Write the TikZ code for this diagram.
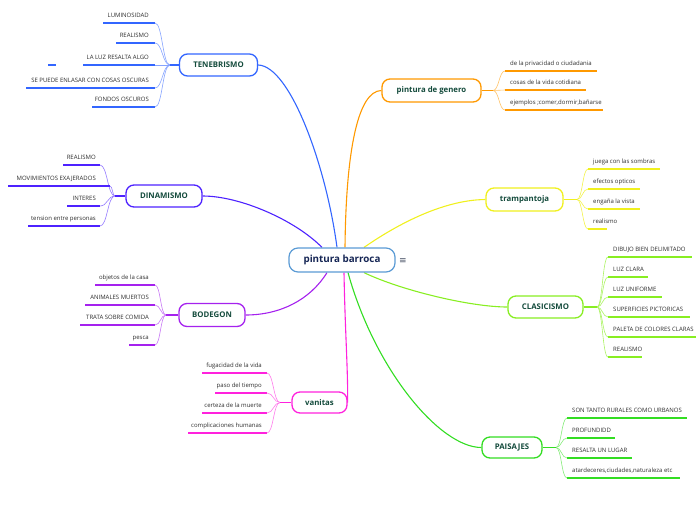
\documentclass[tikz,border=0pt]{standalone}
\usepackage{fontspec}
\setmainfont{Open Sans}
\newfontfamily\symfont{DejaVu Sans}
\usetikzlibrary{backgrounds}
\definecolor{ctene}{RGB}{51,102,255}
\definecolor{cdina}{RGB}{77,34,255}
\definecolor{cbode}{RGB}{165,34,238}
\definecolor{cvani}{RGB}{255,34,221}
\definecolor{cgene}{RGB}{255,153,0}
\definecolor{ctram}{RGB}{240,240,30}
\definecolor{cclas}{RGB}{136,238,34}
\definecolor{cpais}{RGB}{51,221,34}
\definecolor{ccent}{RGB}{91,155,213}
\definecolor{cnavy}{RGB}{22,38,85}
\definecolor{cgreen}{RGB}{20,75,60}
\definecolor{ctext}{RGB}{45,45,45}
\definecolor{cgrey}{RGB}{70,80,100}
\begin{document}
\begin{tikzpicture}[x=1pt,y=-1pt,
  branch/.style={draw, line width=1.3pt, rounded corners=8pt, fill=white, text=cgreen,
    font=\bfseries\fontsize{7.8}{9}\selectfont, inner sep=0pt, minimum height=22pt},
  leaf/.style={inner sep=0pt, text=ctext, font=\fontsize{6}{7}\selectfont},
  uline/.style={line width=1.8pt},
  lcurve/.style={line width=0.6pt},
  mainline/.style={line width=1.1pt}]
\useasboundingbox (0,0) rectangle (696,520);

% central node
\node[draw=ccent, line width=1.2pt, rounded corners=9pt, fill=white, minimum width=106pt,
  minimum height=24pt, inner sep=0pt, text=cnavy, font=\bfseries\fontsize{9.8}{12}\selectfont]
  (cen) at (342,260) {pintura barroca};
\node[inner sep=0pt, text=cgrey, font=\symfont\fontsize{9}{10}\selectfont] (menu) at (403,261) {≡};

% branch nodes
\node[branch, draw=ctene, minimum width=78pt] (tene) at (218.5,65) {TENEBRISMO};
\node[branch, draw=cdina, minimum width=76pt] (dina) at (164,196) {DINAMISMO};
\node[branch, draw=cbode, minimum width=66pt, minimum height=23pt] (bode) at (212,315) {BODEGON};
\node[branch, draw=cvani, minimum width=55pt, minimum height=21pt] (vani) at (319.5,402.5) {vanitas};
\node[branch, draw=cgene, minimum width=99pt, minimum height=23pt] (gene) at (431.5,90.5) {pintura de genero};
\node[branch, draw=ctram, minimum width=77pt, minimum height=23pt] (tram) at (524.5,199.5) {trampantoja};
\node[branch, draw=cclas, minimum width=75pt] (clas) at (545.5,307) {CLASICISMO};
\node[branch, draw=cpais, minimum width=60pt, minimum height=21pt] (pais) at (512,447.5) {PAISAJES};

% main connectors
\begin{pgfonlayer}{background}
\draw[mainline, ctene] ([xshift=-5pt]cen.north) .. controls (326,165) and (290,66) .. (tene.east);
\draw[mainline, cgene] ([xshift=3pt]cen.north) .. controls (346,150) and (358,91) .. (gene.west);
\draw[mainline, cdina] ([xshift=-20pt]cen.north) .. controls (295,220) and (240,196) .. (dina.east);
\draw[mainline, ctram] ([xshift=22pt]cen.north) .. controls (392,228) and (440,200) .. (tram.west);
\draw[mainline, cclas] ([xshift=22pt]cen.south) .. controls (400,290) and (470,307) .. (clas.west);
\draw[mainline, cpais] ([xshift=6pt]cen.south) .. controls (375,370) and (440,447.5) .. (pais.west);
\draw[mainline, cbode] ([xshift=-15pt]cen.south) .. controls (310,300) and (280,315) .. (bode.east);
\draw[mainline, cvani] ([xshift=2pt]cen.south) .. controls (345,330) and (348,370) .. (vani.east);
\end{pgfonlayer}

% TENEBRISMO leaves
\coordinate (tJ) at (170,65);
\foreach \txt/\xl/\xr/\y [count=\i] in {{LUMINOSIDAD}/103/155/23, {REALISMO}/116/155/43,
  {LA LUZ RESALTA ALGO}/83/155/65, {SE PUEDE ENLASAR CON COSAS OSCURAS}/26/155/88,
  {FONDOS OSCUROS}/92/155/107}{
  \coordinate (TL\i) at (\xl,\y);
  \coordinate (TR\i) at (\xr,\y);
  \node[leaf, anchor=base east] (T\i) at (149,\y-5.5) {\txt};
  \draw[uline, ctene] (TL\i) -- (TR\i);
  \draw[lcurve, ctene!60] (TR\i) .. controls ({(\xr+170)/2},\y) and ({(\xr+170)/2},65) .. (tJ);
}
\coordinate (TX1) at (48,65);
\coordinate (TX2) at (56,65);
\draw[uline, ctene] (TX1) -- (TX2);
\draw[mainline, ctene] (tJ) -- (tene.west);

% DINAMISMO leaves
\coordinate (dJ) at (115,196);
\foreach \txt/\xl/\xr/\y [count=\i] in {{REALISMO}/63/100/165, {MOVIMIENTOS  EXAJERADOS}/8/110/186,
  {INTERES}/67/100/206, {tension entre personas}/28/100/226}{
  \coordinate (DL\i) at (\xl,\y);
  \coordinate (DR\i) at (\xr,\y);
  \node[leaf, anchor=base east] (D\i) at (96,\y-5.5) {\txt};
  \draw[uline, cdina] (DL\i) -- (DR\i);
  \draw[lcurve, cdina!60] (DR\i) .. controls ({(\xr+115)/2},\y) and ({(\xr+115)/2},196) .. (dJ);
}
\draw[mainline, cdina] (dJ) -- (dina.west);

% BODEGON leaves
\coordinate (bJ) at (166,315);
\foreach \txt/\xl/\xr/\y [count=\i] in {{objetos de la casa}/95/155/285, {ANIMALES MUERTOS}/85/155/305,
  {TRATA SOBRE COMIDA}/80/155/325, {pesca}/129/155/345}{
  \coordinate (BL\i) at (\xl,\y);
  \coordinate (BR\i) at (\xr,\y);
  \node[leaf, anchor=base east] (B\i) at (149,\y-5.5) {\txt};
  \draw[uline, cbode] (BL\i) -- (BR\i);
  \draw[lcurve, cbode!60] (BR\i) .. controls ({(\xr+166)/2},\y) and ({(\xr+166)/2},315) .. (bJ);
}
\draw[mainline, cbode] (bJ) -- (bode.west);

% vanitas leaves
\coordinate (vJ) at (280,402.5);
\foreach \txt/\xl/\xr/\y [count=\i] in {{fugacidad de la vida}/202/267/373, {paso del tiempo}/215/267/393,
  {certeza de la muerte}/202/267/413, {complicaciones humanas}/188/267/433}{
  \coordinate (VL\i) at (\xl,\y);
  \coordinate (VR\i) at (\xr,\y);
  \node[leaf, anchor=base east] (V\i) at (262,\y-5.5) {\txt};
  \draw[uline, cvani] (VL\i) -- (VR\i);
  \draw[lcurve, cvani!60] (VR\i) .. controls ({(\xr+280)/2},\y) and ({(\xr+280)/2},402.5) .. (vJ);
}
\draw[mainline, cvani] (vJ) -- (vani.west);

% pintura de genero leaves
\coordinate (gJ) at (493,90.5);
\foreach \txt/\xl/\xr/\y [count=\i] in {{de la privacidad o ciudadania}/505/597/71,
  {cosas de la vida cotidiana}/505/586/90, {ejemplos ;comer,dormir,bañarse}/505/603/110}{
  \coordinate (GL\i) at (\xl,\y);
  \coordinate (GR\i) at (\xr,\y);
  \node[leaf, anchor=base west] (G\i) at (510,\y-5.5) {\txt};
  \draw[uline, cgene] (GL\i) -- (GR\i);
  \draw[lcurve, cgene!60] (gJ) .. controls ({(\xl+493)/2},90.5) and ({(\xl+493)/2},\y) .. (GL\i);
}
\draw[mainline, cgene] (gene.east) -- (gJ);

% trampantoja leaves
\coordinate (mJ) at (577,199.5);
\foreach \txt/\xl/\xr/\y [count=\i] in {{juega con las sombras}/588/660/169,
  {efectos opticos}/588/640/189, {engaña la vista}/588/640/209, {realismo}/588/607/229}{
  \coordinate (ML\i) at (\xl,\y);
  \coordinate (MR\i) at (\xr,\y);
  \node[leaf, anchor=base west] (M\i) at (593,\y-5.5) {\txt};
  \draw[uline, ctram] (ML\i) -- (MR\i);
  \draw[lcurve, ctram!80] (mJ) .. controls ({(\xl+577)/2},199.5) and ({(\xl+577)/2},\y) .. (ML\i);
}
\draw[mainline, ctram] (tram.east) -- (mJ);

% CLASICISMO leaves
\coordinate (cJ) at (597,307);
\foreach \txt/\xl/\xr/\y [count=\i] in {{DIBUJO BIEN DELIMITADO}/608/692/257, {LUZ CLARA}/608/648/277,
  {LUZ UNIFORME}/608/662/297, {SUPERFICIES PICTORICAS}/608/690/317,
  {PALETA DE COLORES CLARAS}/608/696/337, {REALISMO}/608/642/357}{
  \coordinate (CL\i) at (\xl,\y);
  \coordinate (CR\i) at (\xr,\y);
  \node[leaf, anchor=base west] (C\i) at (613,\y-5.5) {\txt};
  \draw[uline, cclas] (CL\i) -- (CR\i);
  \draw[lcurve, cclas!70] (cJ) .. controls ({(\xl+597)/2},307) and ({(\xl+597)/2},\y) .. (CL\i);
}
\draw[mainline, cclas] (clas.east) -- (cJ);

% PAISAJES leaves
\coordinate (sJ) at (556,447.5);
\foreach \txt/\xl/\xr/\y [count=\i] in {{SON TANTO RURALES COMO URBANOS}/567/687/418,
  {PROFUNDIDD}/567/615/438, {RESALTA UN LUGAR}/567/632/458,
  {atardeceres,ciudades,naturaleza etc}/567/680/478}{
  \coordinate (SL\i) at (\xl,\y);
  \coordinate (SR\i) at (\xr,\y);
  \node[leaf, anchor=base west] (S\i) at (572,\y-5.5) {\txt};
  \draw[uline, cpais] (SL\i) -- (SR\i);
  \draw[lcurve, cpais!60] (sJ) .. controls ({(\xl+556)/2},447.5) and ({(\xl+556)/2},\y) .. (SL\i);
}
\draw[mainline, cpais] (pais.east) -- (sJ);
\end{tikzpicture}
\end{document}
